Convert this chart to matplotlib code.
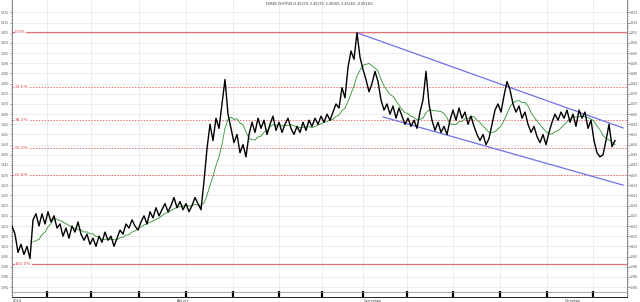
import numpy as np
import pandas as pd
import matplotlib
matplotlib.use("Agg")
import matplotlib.pyplot as plt

# price trace left to right
prices = [
    3.410, 3.406, 3.397, 3.401, 3.396, 3.400, 3.394, 3.413, 3.416, 3.410,
    3.416, 3.411, 3.417, 3.412, 3.415, 3.409, 3.411, 3.405, 3.409, 3.404,
    3.410, 3.407, 3.412, 3.406, 3.403, 3.406, 3.401, 3.404, 3.400, 3.405,
    3.402, 3.407, 3.403, 3.405, 3.400, 3.404, 3.408, 3.406, 3.411, 3.409,
    3.413, 3.410, 3.408, 3.412, 3.415, 3.411, 3.417, 3.414, 3.419, 3.415,
    3.418, 3.421, 3.417, 3.420, 3.424, 3.419, 3.422, 3.418, 3.421, 3.417,
    3.420, 3.424, 3.421, 3.418, 3.432, 3.448, 3.460, 3.452, 3.463, 3.458,
    3.470, 3.482, 3.465, 3.458, 3.451, 3.455, 3.446, 3.450, 3.444, 3.455,
    3.461, 3.456, 3.463, 3.458, 3.462, 3.455, 3.460, 3.464, 3.457, 3.461,
    3.456, 3.460, 3.463, 3.458, 3.455, 3.459, 3.456, 3.461, 3.457, 3.462,
    3.459, 3.463, 3.460, 3.464, 3.461, 3.465, 3.462, 3.466, 3.470, 3.468,
    3.478, 3.473, 3.488, 3.496, 3.492, 3.505, 3.493, 3.487, 3.482, 3.476,
    3.480, 3.486, 3.481, 3.472, 3.467, 3.470, 3.465, 3.469, 3.463, 3.468,
    3.464, 3.460, 3.463, 3.459, 3.462, 3.458, 3.466, 3.472, 3.486, 3.470,
    3.462, 3.457, 3.461, 3.456, 3.459, 3.455, 3.462, 3.467, 3.462, 3.468,
    3.463, 3.466, 3.460, 3.464, 3.459, 3.455, 3.452, 3.455, 3.450, 3.453,
    3.460, 3.467, 3.470, 3.466, 3.474, 3.481, 3.477, 3.470, 3.466, 3.469,
    3.463, 3.466, 3.460, 3.456, 3.459, 3.454, 3.451, 3.455, 3.450, 3.456,
    3.461, 3.465, 3.462, 3.466, 3.463, 3.467, 3.461, 3.465, 3.459, 3.467,
    3.463, 3.466, 3.458, 3.462, 3.452, 3.446, 3.444, 3.445, 3.452, 3.460,
    3.449, 3.452,
]
ma_window = 8

fib_high = 3.5055
fib_low = 3.3913
fib_ratios = [0.0, 0.236, 0.382, 0.5, 0.618, 1.0]
fib_labels = ["0.0%", "23.6%", "38.2%", "50.0%", "61.8%", "100.0%"]

# trend channel (bar index, price)
upper_x = [115, 203.7]
upper_y = [3.505, 3.4582]
lower_x = [123.7, 203.7]
lower_y = [3.4636, 3.4301]

week_ticks = [11.6, 26.4, 42.4, 58.0, 73.6, 88.9, 103.2, 117.1, 131.6, 147.1, 162.7, 178.2, 193.6]
month_pos = [0.3, 55.0, 117.1, 184.3]
month_names = ["2014", "Август", "Сентябрь", "Октябрь"]

title = "FOREX CHF/PLN (3.45270, 3.45270, 3.45160, 3.45160, -0.00110)"

s = pd.Series(prices)
ma = s.rolling(ma_window).mean()
x = np.arange(len(prices))

fig = plt.figure(figsize=(6.4, 3.02), dpi=100)
ax = fig.add_axes([12 / 640, 5 / 302, 615 / 640, 297 / 302])
ax.set_xlim(0, 205)
ax.set_ylim(3.3751, 3.5211)

yt = np.arange(3.380, 3.5151, 0.005)
ax.set_yticks(yt)
ax.set_yticks(np.arange(3.376, 3.521, 0.001), minor=True)
ax.set_yticklabels(["%.3f" % v for v in yt])
ax.tick_params(axis="y", which="both", left=True, right=True, labelleft=True,
               labelright=True, labelsize=2.1, colors="#555555", direction="out",
               length=1.0, width=0.4, pad=0.4)
ax.tick_params(axis="y", which="major", length=1.8)
ax.set_xticks(week_ticks)
ax.set_xticklabels([])
ax.tick_params(axis="x", direction="in", length=4, width=1.6, color="black")
ax.grid(True, axis="both", color="#e6e6e6", lw=0.5)
ax.set_axisbelow(True)
for sp in ["left", "right"]:
    ax.spines[sp].set_color("#777777")
    ax.spines[sp].set_linewidth(0.6)
ax.spines["top"].set_visible(False)
ax.spines["bottom"].set_linewidth(0.6)
# strip above the time axis
ax.plot([0, 1], [0.016, 0.016], transform=ax.transAxes, color="#888888", lw=0.5)

for r, lab in zip(fib_ratios, fib_labels):
    lvl = fib_high - r * (fib_high - fib_low)
    if r in (0.0, 1.0):
        ax.axhline(lvl, color="#e87070", lw=0.9, zorder=1)
    else:
        ax.axhline(lvl, color="#e87070", lw=0.7, ls=(0, (1.5, 1.5)), zorder=1)
    ax.text(1.0, lvl, lab, color="#e04848", fontsize=3.2, va="center", ha="left",
            bbox=dict(facecolor="white", edgecolor="none", pad=0.3), zorder=2)

ax.plot(upper_x, upper_y, color="#7070e8", lw=0.9, zorder=3)
ax.plot(lower_x, lower_y, color="#7070e8", lw=0.9, zorder=3)
ax.plot(x, ma, color="#2f8f2f", lw=0.6, zorder=4)
ax.plot(x, prices, color="black", lw=1.0, zorder=5)

ax.text(0.5, 0.992, title, transform=ax.transAxes, ha="center", va="top",
        fontsize=2.3, color="#333333")

for p, name in zip(month_pos, month_names):
    ax.text(p, -0.006, name, transform=ax.get_xaxis_transform(), ha="left",
            va="top", fontsize=2.6, color="#444444")

fig.savefig("out.png", dpi=100)
